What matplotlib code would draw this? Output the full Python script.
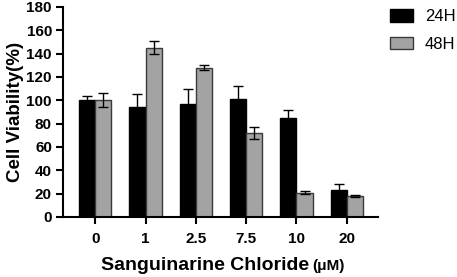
import matplotlib
matplotlib.use("Agg")
import matplotlib.pyplot as plt
import numpy as np

plt.rcParams['font.family'] = ['Liberation Sans', 'DejaVu Sans']

categories = ["0", "1", "2.5", "7.5", "10", "20"]
v24 = [100, 94, 97, 101, 85, 23]
e24 = [3.5, 11, 13, 11, 7, 5.5]
v48 = [100, 145, 128, 72, 21, 18]
e48 = [6, 5.5, 2, 5.5, 1, 1]

fig = plt.figure(figsize=(4.57, 2.77), dpi=100)
ax = fig.add_axes([63/457, 1-217/277, (378-63)/457, (217-7)/277])

x = np.arange(len(categories))
w = 0.32
ax.bar(x - w/2, v24, w, color='black', edgecolor='black', linewidth=1, zorder=2, label='24H')
ax.bar(x + w/2, v48, w, color='#a3a3a3', edgecolor='#3a3a3a', linewidth=1, zorder=2, label='48H')
ax.errorbar(x - w/2, v24, yerr=e24, fmt='none', ecolor='black', elinewidth=1, capsize=3.5, capthick=1, zorder=3)
ax.errorbar(x + w/2, v48, yerr=e48, fmt='none', ecolor='black', elinewidth=1, capsize=3.5, capthick=1, zorder=3)

ax.set_xlim(-0.64, 5.62)
ax.set_ylim(0, 180)
ax.set_yticks(np.arange(0, 181, 20))
ax.set_xticks(x)
ax.set_xticklabels(categories)
for s in ['top', 'right']:
    ax.spines[s].set_visible(False)
for s in ['left', 'bottom']:
    ax.spines[s].set_linewidth(1.5)
ax.tick_params(axis='both', width=1.5, length=5, labelsize=11, pad=3)
ax.tick_params(axis='x', pad=6)
for lbl in ax.get_xticklabels() + ax.get_yticklabels():
    lbl.set_fontweight('bold')

ax.set_ylabel('Cell Viability(%)', fontsize=13.5, fontweight='bold', labelpad=2)

fig.text(309/457, 1-270/277, 'Sanguinarine Chloride', ha='right', va='baseline', fontsize=14, fontweight='bold')
fig.text(312/457, 1-270/277, '(μM)', ha='left', va='baseline', fontsize=11, fontweight='bold')

leg = fig.legend(loc='upper left', bbox_to_anchor=(390/457, 1-9/277), bbox_transform=fig.transFigure,
                 frameon=False, fontsize=12, borderpad=0, borderaxespad=0,
                 handlelength=1.38, handleheight=0.78, handletextpad=0.72, labelspacing=0.75)

fig.savefig('out.png', dpi=100)
